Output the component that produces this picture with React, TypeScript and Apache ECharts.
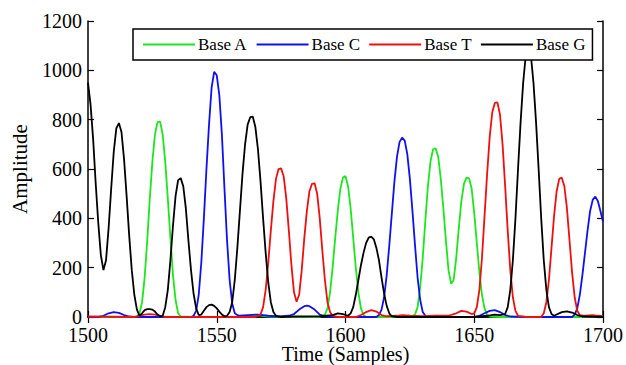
import React, { useEffect, useRef } from "react";
import * as echarts from "echarts";

const seriesNames = ["Base A", "Base C", "Base T", "Base G"];
const seriesColors = ["#1ee61e", "#1010ee", "#ee1010", "#000000"];

const xTicks = { min: 1500, max: 1700, interval: 50 };
const yTicks = { min: 0, max: 1200, interval: 200 };

// Base A (green)
const baseA: [number, number][] = [
  [1500, 0], [1518, 0], [1519, 3], [1520, 15], [1521, 60], [1522, 160], [1523, 310], [1524, 480],
  [1525, 630], [1526, 740], [1527, 790], [1528, 792], [1529, 740], [1530, 630], [1531, 480],
  [1532, 320], [1533, 170], [1534, 70], [1535, 15], [1536, 2], [1540, 0], [1560, 0], [1563, 5],
  [1566, 8], [1569, 3], [1575, 0], [1590, 0], [1592, 10], [1593, 35], [1594, 100], [1595, 200],
  [1596, 320], [1597, 430], [1598, 520], [1599, 565], [1600, 571], [1601, 530], [1602, 440],
  [1603, 320], [1604, 200], [1605, 100], [1606, 35], [1607, 8], [1608, 0], [1625, 0], [1627, 10],
  [1628, 40], [1629, 120], [1630, 240], [1631, 390], [1632, 530], [1633, 630], [1634, 680],
  [1635, 684], [1636, 650], [1637, 560], [1638, 440], [1639, 310], [1640, 190], [1641, 135],
  [1642, 150], [1643, 240], [1644, 360], [1645, 470], [1646, 540], [1647, 565], [1648, 562],
  [1649, 520], [1650, 420], [1651, 300], [1652, 180], [1653, 90], [1654, 35], [1655, 10],
  [1656, 2], [1660, 0], [1700, 0],
];

// Base C (blue)
const baseC: [number, number][] = [
  [1500, 0], [1504, 0], [1506, 5], [1508, 15], [1510, 20], [1512, 17], [1514, 8], [1516, 2],
  [1518, 0], [1540, 0], [1541, 5], [1542, 25], [1543, 90], [1544, 220], [1545, 400], [1546, 600],
  [1547, 780], [1548, 930], [1549, 994], [1550, 980], [1551, 900], [1552, 740], [1553, 520],
  [1554, 310], [1555, 150], [1556, 55], [1557, 15], [1558, 8], [1559, 5], [1562, 8], [1566, 10],
  [1570, 5], [1574, 2], [1578, 5], [1580, 12], [1582, 30], [1584, 44], [1585, 46], [1586, 44],
  [1588, 30], [1590, 10], [1592, 3], [1596, 0], [1612, 0], [1613, 8], [1614, 30], [1615, 80],
  [1616, 170], [1617, 290], [1618, 420], [1619, 550], [1620, 650], [1621, 710], [1622, 727],
  [1623, 715], [1624, 660], [1625, 560], [1626, 430], [1627, 290], [1628, 160], [1629, 70],
  [1630, 20], [1631, 5], [1633, 0], [1650, 0], [1652, 5], [1654, 15], [1656, 25], [1658, 28],
  [1660, 20], [1662, 8], [1664, 2], [1670, 0], [1688, 0], [1689, 10], [1690, 35], [1691, 90],
  [1692, 170], [1693, 260], [1694, 350], [1695, 430], [1696, 475], [1697, 488], [1698, 470],
  [1699, 430], [1700, 386],
];

// Base T (red)
const baseT: [number, number][] = [
  [1500, 2], [1518, 0], [1520, 5], [1522, 10], [1524, 12], [1526, 10], [1528, 5], [1530, 0],
  [1565, 0], [1567, 10], [1568, 40], [1569, 110], [1570, 220], [1571, 350], [1572, 470],
  [1573, 560], [1574, 600], [1575, 603], [1576, 570], [1577, 480], [1578, 350], [1579, 210],
  [1580, 100], [1581, 62], [1582, 90], [1583, 190], [1584, 320], [1585, 430], [1586, 510],
  [1587, 540], [1588, 542], [1589, 500], [1590, 400], [1591, 270], [1592, 150], [1593, 60],
  [1594, 20], [1595, 5], [1597, 0], [1604, 0], [1606, 8], [1608, 20], [1610, 28], [1612, 22],
  [1614, 8], [1616, 3], [1620, 5], [1622, 8], [1625, 5], [1630, 3], [1635, 5], [1640, 5],
  [1643, 15], [1645, 25], [1647, 22], [1649, 12], [1650, 15], [1651, 40], [1652, 110],
  [1653, 240], [1654, 410], [1655, 580], [1656, 730], [1657, 830], [1658, 868], [1659, 870],
  [1660, 820], [1661, 700], [1662, 530], [1663, 350], [1664, 190], [1665, 80], [1666, 25],
  [1667, 5], [1670, 0], [1676, 0], [1677, 15], [1678, 60], [1679, 150], [1680, 280], [1681, 410],
  [1682, 510], [1683, 560], [1684, 565], [1685, 530], [1686, 440], [1687, 310], [1688, 180],
  [1689, 80], [1690, 25], [1691, 8], [1693, 5], [1696, 8], [1698, 5], [1700, 3],
];

// Base G (black)
const baseG: [number, number][] = [
  [1500, 950], [1501, 860], [1502, 720], [1503, 540], [1504, 380], [1505, 250], [1506, 190],
  [1507, 230], [1508, 360], [1509, 520], [1510, 670], [1511, 765], [1512, 786], [1513, 750],
  [1514, 640], [1515, 490], [1516, 330], [1517, 190], [1518, 90], [1519, 30], [1520, 5],
  [1521, 15], [1522, 28], [1523, 32], [1524, 32], [1525, 30], [1526, 22], [1527, 10], [1528, 3],
  [1529, 5], [1530, 40], [1531, 110], [1532, 230], [1533, 370], [1534, 490], [1535, 555],
  [1536, 563], [1537, 530], [1538, 440], [1539, 310], [1540, 190], [1541, 95], [1542, 35],
  [1543, 8], [1544, 10], [1545, 25], [1546, 40], [1547, 48], [1548, 50], [1549, 45], [1550, 35],
  [1551, 22], [1552, 10], [1553, 3], [1554, 5], [1555, 20], [1556, 60], [1557, 150], [1558, 280],
  [1559, 430], [1560, 580], [1561, 700], [1562, 780], [1563, 810], [1564, 812], [1565, 770],
  [1566, 680], [1567, 550], [1568, 400], [1569, 260], [1570, 140], [1571, 60], [1572, 20],
  [1573, 5], [1575, 0], [1580, 2], [1590, 3], [1595, 8], [1597, 15], [1599, 12], [1601, 5],
  [1602, 15], [1603, 40], [1604, 90], [1605, 150], [1606, 210], [1607, 260], [1608, 300],
  [1609, 322], [1610, 326], [1611, 315], [1612, 280], [1613, 230], [1614, 160], [1615, 95],
  [1616, 45], [1617, 15], [1618, 3], [1620, 0], [1650, 0], [1655, 5], [1658, 10], [1660, 8],
  [1662, 12], [1663, 40], [1664, 110], [1665, 230], [1666, 400], [1667, 600], [1668, 790],
  [1669, 950], [1670, 1060], [1671, 1100], [1672, 1060], [1673, 950], [1674, 790], [1675, 600],
  [1676, 400], [1677, 230], [1678, 110], [1679, 40], [1680, 12], [1681, 5], [1682, 10],
  [1684, 20], [1686, 23], [1688, 18], [1690, 8], [1692, 2], [1700, 0],
];

const seriesData = [baseA, baseC, baseT, baseG];

const FONT = "'Liberation Serif', 'Times New Roman', serif";

export default function App() {
  const ref = useRef<HTMLDivElement>(null);
  useEffect(() => {
    if (!ref.current) return;
    const chart = echarts.init(ref.current, undefined, { renderer: "svg" });
    const axisLine = { show: true, lineStyle: { color: "#000", width: 1.5 } };
    const tick = { show: true, inside: true, length: 6, lineStyle: { color: "#000", width: 1.2 } };
    const plain = (v: number) => String(v);
    chart.setOption({
      animation: false,
      backgroundColor: "#fff",
      textStyle: { fontFamily: FONT, color: "#000" },
      grid: { left: 88, right: 23, top: 21, bottom: 48, containLabel: false, outerBoundsMode: "none" },
      legend: {
        data: seriesNames.map((n, i) => ({ name: n, itemStyle: { color: seriesColors[i] } })),
        left: 133,
        top: 29,
        orient: "horizontal",
        icon: "rect",
        itemWidth: 52,
        itemHeight: 1.8,
        itemGap: 9,
        padding: [6, 7, 6, 10],
        borderColor: "#000",
        borderWidth: 1.5,
        backgroundColor: "#fff",
        textStyle: { fontFamily: FONT, fontSize: 17, color: "#000", lineHeight: 19, padding: [0, 0, 0, -2] },
      },
      xAxis: [
        {
          type: "value",
          position: "bottom",
          min: xTicks.min,
          max: xTicks.max,
          interval: xTicks.interval,
          axisLine,
          axisTick: tick,
          splitLine: { show: false },
          axisLabel: { fontFamily: FONT, fontSize: 20, lineHeight: 14, color: "#000", margin: 11, formatter: plain },
          name: "Time (Samples)",
          nameLocation: "middle",
          nameGap: 27,
          nameMoveOverlap: false,
          nameTextStyle: { fontFamily: FONT, fontSize: 20, lineHeight: 20, color: "#000" },
        },
        {
          type: "value",
          position: "top",
          min: xTicks.min,
          max: xTicks.max,
          interval: xTicks.interval,
          axisLine,
          axisTick: tick,
          splitLine: { show: false },
          axisLabel: { show: false },
        },
      ],
      yAxis: [
        {
          type: "value",
          position: "left",
          min: yTicks.min,
          max: yTicks.max,
          interval: yTicks.interval,
          axisLine,
          axisTick: tick,
          splitLine: { show: false },
          axisLabel: { fontFamily: FONT, fontSize: 20, lineHeight: 14, color: "#000", margin: 6, formatter: plain },
          name: "Amplitude",
          nameLocation: "middle",
          nameGap: 58,
          nameMoveOverlap: false,
          nameTextStyle: { fontFamily: FONT, fontSize: 21, color: "#000" },
        },
        {
          type: "value",
          position: "right",
          min: yTicks.min,
          max: yTicks.max,
          interval: yTicks.interval,
          axisLine,
          axisTick: tick,
          splitLine: { show: false },
          axisLabel: { show: false },
        },
      ],
      series: seriesNames.map((name, i) => ({
        name,
        type: "line",
        xAxisIndex: 0,
        yAxisIndex: 0,
        data: seriesData[i],
        symbol: "none",
        showSymbol: false,
        smooth: false,
        lineStyle: { color: seriesColors[i], width: 1.8 },
        itemStyle: { color: seriesColors[i] },
        clip: true,
      })),
    });
    return () => chart.dispose();
  }, []);
  return <div ref={ref} style={{ width: 626, height: 365, position: "absolute", left: 0, top: 0 }} />;
}
